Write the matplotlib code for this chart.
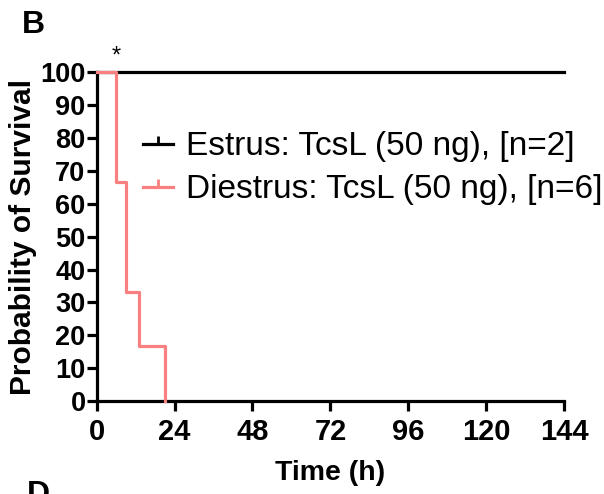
import matplotlib.pyplot as plt
from matplotlib.lines import Line2D

# Kaplan-Meier steps (time in h, survival in %)
estrus_t = [0, 144]
estrus_s = [100, 100]
diestrus_t = [0, 6, 9, 13, 21]
diestrus_s = [100, 66.7, 33.3, 16.7, 0]

labels = ["Estrus: TcsL (50 ng), [n=2]", "Diestrus: TcsL (50 ng), [n=6]"]
colors = ["black", "#f88080"]
xticks = [0, 24, 48, 72, 96, 120, 144]
yticks = list(range(0, 101, 10))

plt.rcParams['font.family'] = ['Liberation Sans', 'DejaVu Sans']

fig = plt.figure(figsize=(6.04, 4.94), dpi=100)
ax = fig.add_axes([0.160, 0.188, 0.774, 0.666])

ax.step(estrus_t, estrus_s, where='post', color=colors[0], lw=2.3, clip_on=False, zorder=3)
ax.step(diestrus_t, diestrus_s, where='post', color=colors[1], lw=2.3, clip_on=False, zorder=4)

ax.set_xlim(0, 144)
ax.set_ylim(0, 100)
ax.set_xticks(xticks)
ax.set_yticks(yticks)
for s in ['top', 'right']:
    ax.spines[s].set_visible(False)
for s in ['left', 'bottom']:
    ax.spines[s].set_linewidth(2.3)
ax.tick_params(width=2.3, length=7)
ax.tick_params(axis='x', labelsize=21, pad=5)
ax.tick_params(axis='y', labelsize=19.5, pad=1)
for lab in ax.get_xticklabels() + ax.get_yticklabels():
    lab.set_fontweight('bold')

ax.set_xlabel('Time (h)', fontsize=20.5, fontweight='bold', labelpad=10)
ax.set_ylabel('Probability of Survival', fontsize=21.5, fontweight='bold', labelpad=2)

handles = [Line2D([], [], color=c, lw=2.3, marker=2, markersize=6, markeredgewidth=2)
           for c in colors]
ax.legend(handles, labels, loc='upper left', bbox_to_anchor=(0.099, 0.82),
          frameon=False, fontsize=24, handlelength=0.9, handletextpad=0.4,
          labelspacing=0.36, numpoints=1, borderpad=0, borderaxespad=0)

ax.text(6, 101.5, '*', fontsize=17, ha='center', va='bottom')
fig.text(22 / 604, 1 - 10 / 494, 'B', fontsize=23, fontweight='bold', va='top')
fig.text(27 / 604, 1 - 480 / 494, 'D', fontsize=23, fontweight='bold', va='top')

fig.savefig('out.png', dpi=100)
